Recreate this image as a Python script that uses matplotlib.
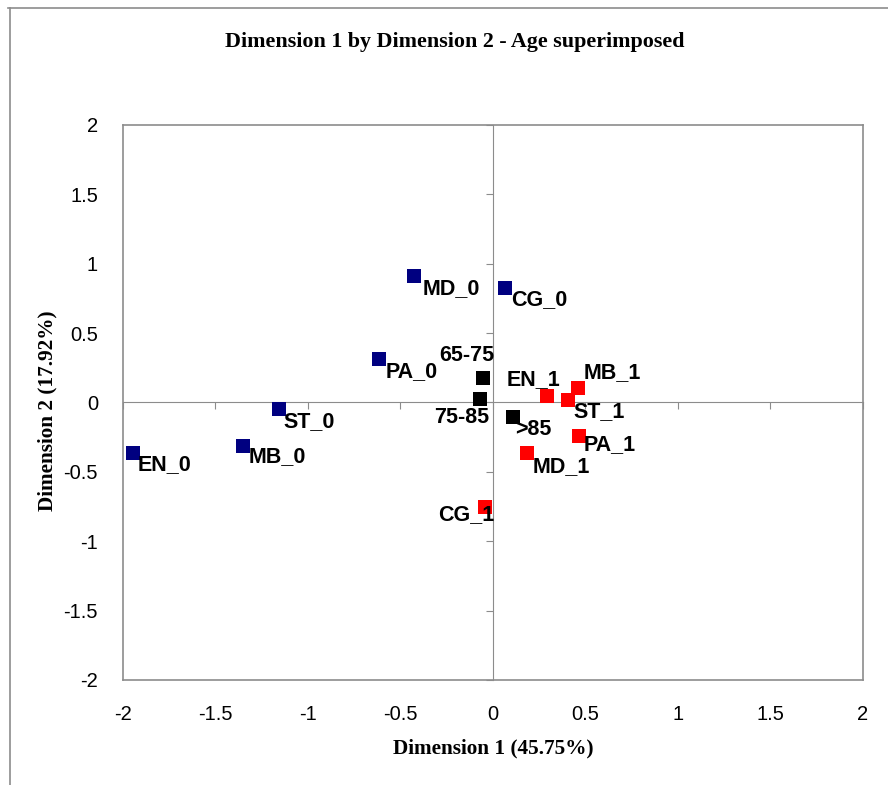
# Correspondence analysis map - Dimension 1 by Dimension 2, age superimposed

import matplotlib
matplotlib.use("Agg")
import matplotlib.pyplot as plt
from matplotlib.lines import Line2D

# data
labels_0 = ["EN_0", "MB_0", "ST_0", "PA_0", "MD_0", "CG_0"]
dim1_0 = [-1.946, -1.351, -1.157, -0.616, -0.427, 0.065]
dim2_0 = [-0.364, -0.313, -0.047, 0.314, 0.912, 0.825]

labels_1 = ["EN_1", "MB_1", "ST_1", "PA_1", "MD_1", "CG_1"]
dim1_1 = [0.292, 0.459, 0.405, 0.465, 0.184, -0.043]
dim2_1 = [0.047, 0.105, 0.018, -0.241, -0.364, -0.753]

labels_age = ["65-75", "75-85", ">85"]
dim1_age = [-0.054, -0.070, 0.108]
dim2_age = [0.177, 0.025, -0.104]

ticks = [-2, -1.5, -1, -0.5, 0, 0.5, 1, 1.5, 2]
tick_labels = ["-2", "-1.5", "-1", "-0.5", "0", "0.5", "1", "1.5", "2"]

# where each label sits relative to its point (pixels, ha)
label_pos = {
    "EN_0": (5, -12, "left"), "MB_0": (6, -11, "left"), "ST_0": (5, -13, "left"),
    "PA_0": (7, -13, "left"), "MD_0": (9, -13, "left"), "CG_0": (6, -12, "left"),
    "EN_1": (13, 16, "right"), "MB_1": (6, 15, "left"), "ST_1": (6, -12, "left"),
    "PA_1": (5, -9, "left"), "MD_1": (6, -14, "left"), "CG_1": (9, -8, "right"),
    "65-75": (11, 22, "right"), "75-85": (9, -18, "right"), ">85": (2, -13, "left"),
}

fig = plt.figure(figsize=(8.88, 7.85), dpi=100)
ax = fig.add_axes([0.1385, 0.1338, 0.8333, 0.707])

grey = "#8c8c8c"
ax.set_xlim(-2, 2)
ax.set_ylim(-2, 2)
for s in ax.spines.values():
    s.set_color(grey)
    s.set_linewidth(1.2)
ax.set_xticks(ticks)
ax.set_xticklabels(tick_labels)
ax.set_yticks(ticks)
ax.set_yticklabels(tick_labels)
ax.tick_params(length=0, labelsize=14.5, pad=18)
for t in ax.get_xticklabels() + ax.get_yticklabels():
    t.set_family("Liberation Sans")

# zero axes with their own ticks, Excel style
ax0 = fig.add_axes(ax.get_position(), sharex=ax, sharey=ax)
ax0.patch.set_visible(False)
ax0.spines["top"].set_visible(False)
ax0.spines["right"].set_visible(False)
ax0.spines["left"].set_position(("data", 0))
ax0.spines["bottom"].set_position(("data", 0))
ax0.spines["left"].set_color(grey)
ax0.spines["bottom"].set_color(grey)
ax0.tick_params(direction="out", length=5, color=grey, labelleft=False, labelbottom=False)
ax0.set_zorder(ax.get_zorder() - 1)

ax.patch.set_visible(False)

ax.scatter(dim1_0, dim2_0, marker="s", s=110, color="#000080", linewidths=0, zorder=3)
ax.scatter(dim1_1, dim2_1, marker="s", s=110, color="#ff0000", linewidths=0, zorder=3)
ax.scatter(dim1_age, dim2_age, marker="s", s=110, color="black", linewidths=0, zorder=3)

all_lab = labels_0 + labels_1 + labels_age
all_x = dim1_0 + dim1_1 + dim1_age
all_y = dim2_0 + dim2_1 + dim2_age
for lab, xx, yy in zip(all_lab, all_x, all_y):
    dx, dy, ha = label_pos[lab]
    ax.annotate(lab, (xx, yy), xytext=(dx, dy), textcoords="offset pixels",
                ha=ha, va="center", fontsize=15.5, fontweight="bold",
                family="Liberation Sans", zorder=4)

fig.text(0.512, 0.9465, "Dimension 1 by Dimension 2 - Age superimposed",
         ha="center", va="center", fontsize=15.8, fontweight="bold", family="Liberation Serif")
fig.text(0.5555, 1 - 748 / 785, "Dimension 1 (45.75%)", ha="center", va="center",
         fontsize=15.3, fontweight="bold", family="Liberation Serif")
fig.text(47 / 888, 1 - 411 / 785, "Dimension 2 (17.92%)", ha="center", va="center",
         rotation=90, fontsize=15.3, fontweight="bold", family="Liberation Serif")

# page border lines
fig.add_artist(Line2D([8 / 888, 1], [1 - 8 / 785, 1 - 8 / 785], color=grey, lw=1.2))
fig.add_artist(Line2D([10 / 888, 10 / 888], [0, 1 - 8 / 785], color=grey, lw=1.2))

plt.savefig("out.png", dpi=100)
